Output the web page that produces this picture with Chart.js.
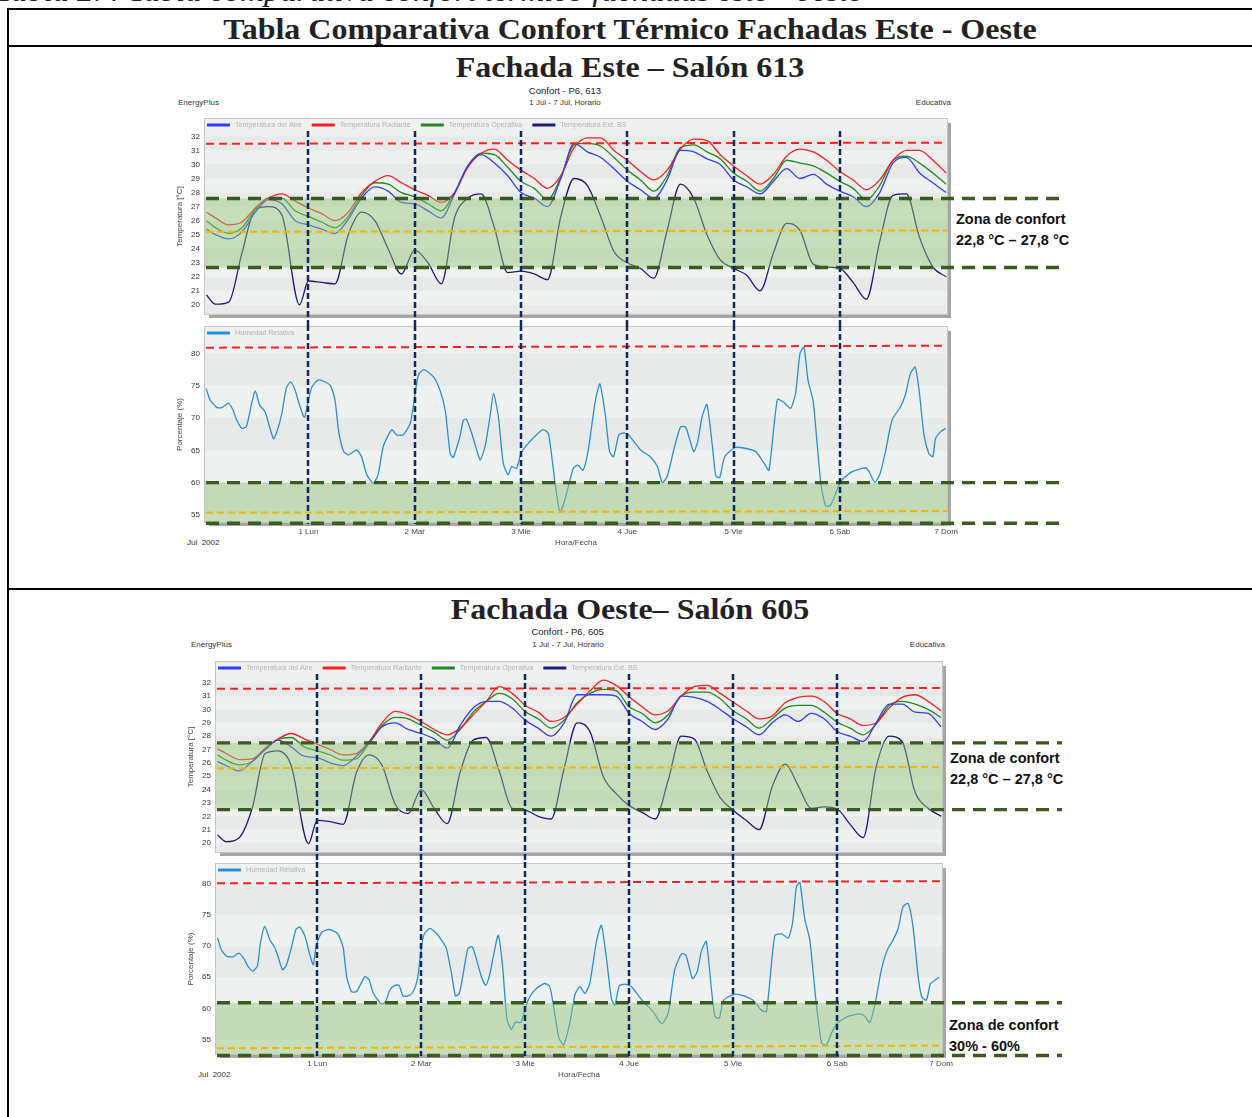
<!DOCTYPE html>
<html lang="es">
<head>
<meta charset="utf-8">
<title>Tabla Comparativa Confort Térmico Fachadas Este - Oeste</title>
<script src="https://cdn.jsdelivr.net/npm/chart.js@4.4.1/dist/chart.umd.min.js"></script>
<style>
  html, body { margin: 0; padding: 0; background: #fff; }
  body { position: relative; width: 1252px; height: 1117px; overflow: hidden;
         font-family: "Liberation Sans", Arial, sans-serif; color: #222; }
  .abs { position: absolute; white-space: nowrap; }
  .raya { position: absolute; background: #000; }
  .serif { font-family: "Liberation Serif", "Times New Roman", serif; font-weight: bold;
           font-size: 30px; line-height: 34px; text-align: center; left: 8px; width: 1244px;
           transform: scaleX(1.067); transform-origin: 622px 0; }
  .chico { font-size: 8px; line-height: 10px; color: #333; }
  .centro { text-align: center; width: 200px; }
  .zona { font-size: 14.5px; line-height: 21px; font-weight: bold; color: #111; }
  canvas { position: absolute; }
</style>
</head>
<body>
<div class="abs" style="left:-4px;top:-26px;font:italic 30px/34px 'Liberation Serif',serif;transform:scaleX(1.085);transform-origin:0 0;">Tabla 27: Tabla comparativa confort térmico fachadas este - oeste</div>
<div class="raya" style="left:7px;top:8px;width:1245px;height:2px"></div>
<div class="raya" style="left:7px;top:45px;width:1245px;height:2px"></div>
<div class="raya" style="left:7px;top:588px;width:1245px;height:2px"></div>
<div class="raya" style="left:7px;top:8px;width:2px;height:1109px"></div>

<div class="abs serif" style="top:12px">Tabla Comparativa Confort Térmico Fachadas Este - Oeste</div>
<div class="abs serif" style="top:50px">Fachada Este – Salón 613</div>
<div class="abs serif" style="top:592px">Fachada Oeste– Salón 605</div>

<!-- encabezados fachada este -->
<div class="abs chico" style="left:178px;top:98px">EnergyPlus</div>
<div class="abs centro" style="left:465px;top:84.6px;font-size:9.5px;line-height:12px">Confort - P6, 613</div>
<div class="abs chico centro" style="left:465px;top:98px">1 Jul - 7 Jul, Horario</div>
<div class="abs chico" style="right:301px;top:98px">Educativa</div>
<div class="abs chico" style="left:187px;top:538px">Jul&nbsp; 2002</div>
<div class="abs zona" style="left:956px;top:209px">Zona de confort<br>22,8 °C – 27,8 °C</div>

<!-- encabezados fachada oeste -->
<div class="abs chico" style="left:191px;top:640px">EnergyPlus</div>
<div class="abs centro" style="left:467.6px;top:626.1px;font-size:9.5px;line-height:12px">Confort - P6, 605</div>
<div class="abs chico centro" style="left:468px;top:640px">1 Jul - 7 Jul, Horario</div>
<div class="abs chico" style="right:307px;top:640px">Educativa</div>
<div class="abs chico" style="left:198px;top:1070px">Jul&nbsp; 2002</div>
<div class="abs zona" style="left:950px;top:747.5px">Zona de confort<br>22,8 °C – 27,8 °C</div>
<div class="abs zona" style="left:949px;top:1014.5px">Zona de confort<br>30% - 60%</div>

<script>
// horas (1 Jul 00h = 0) de las lecturas de temperatura
const horasT = [1,3,6,9,12,15,18,21,24,27,30,33,36,39,42,45,48,51,54,57,60,63,66,69,72,75,78,81,84,87,90,93,96,99,102,105,108,111,114,117,120,123,126,129,132,135,138,141,144,147,150,153,156,159,162,165,168];
const horasExt = [1,3,6,9,12,15,18,22,24,27,30,33,36,39,42,45,48,51,54,57,60,63,66,69,72,75,78,81,84,87,90,93,96,99,102,105,108,111,114,117,120,123,126,129,132,135,138,141,144,147,150,153,156,159,162,165,168];

const etiquetasDias = ['1 Lun','2 Mar','3 Mie','4 Jue','5 Vie','6 Sab','7 Dom'];
const horasDias = [24,48,72,96,120,144,168];
const ticksTemp = [20,21,22,23,24,25,26,27,28,29,30,31,32];
const ticksHum = [55,60,65,70,75,80];
const nombresTemp = ['Temperatura del Aire','Temperatura Radiante','Temperatura Operativa','Temperatura Ext. BS'];

// Fachada Este - Salon 613
const aireEste = [25.4,25.0,24.7,25.2,26.6,27.5,27.2,26.0,25.7, 25.4,25.1,26.1,27.6,28.4,28.1,27.3,27.2, 26.7,26.2,27.9,29.9,30.7,30.1,29.2,28.0, 27.6,27.0,29.0,31.5,30.9,30.5,29.7,28.8, 28.2,27.6,28.9,31.0,30.9,30.4,30.0,28.9, 28.4,27.9,28.8,29.7,29.0,29.3,28.6,28.1, 27.7,27.0,28.0,30.1,30.5,29.4,28.7,28.0];
const radianteEste = [26.6,26.2,25.7,25.9,26.9,27.6,27.9,27.4,26.9, 26.5,26.0,26.6,28.0,28.8,29.2,28.7,28.2, 27.8,27.3,28.0,29.8,30.8,31.1,30.3,29.6, 29.0,28.3,29.2,31.2,31.9,31.9,31.0,30.3, 29.5,28.9,29.6,31.1,31.8,31.7,30.7,29.9, 29.2,28.6,29.3,30.6,31.1,30.9,30.3,29.5, 28.9,28.2,28.9,30.3,31.0,31.0,30.3,29.4];
const operativaEste = [26.0,25.5,25.1,25.5,26.8,27.6,27.6,26.7,26.3, 25.9,25.5,26.3,27.8,28.7,28.6,28.0,27.7, 27.2,26.7,28.0,29.9,30.8,30.7,29.8,28.8, 28.3,27.5,29.1,31.4,31.5,31.3,30.5,29.6, 28.9,28.1,29.2,31.2,31.4,30.9,30.4,29.4, 28.8,28.1,29.0,30.3,30.1,29.9,29.4,28.8, 28.3,27.5,28.5,30.3,30.6,30.1,29.4,28.6];
const exteriorEste = [20.7,20.05,20.2,23.7,26.8,27.0,26.4,20.0,21.7, 21.6,21.5,25.0,26.6,26.0,24.0,22.2,23.9, 23.0,21.5,26.2,27.6,27.9,25.5,22.3,22.4, 22.2,21.8,26.3,29.0,28.5,26.3,23.8,23.0, 22.6,21.9,25.3,28.6,27.6,25.0,23.2,22.6, 22.1,21.0,23.7,25.8,25.3,22.9,22.7,22.6, 21.6,20.4,24.5,27.8,27.9,24.8,22.7,22.0];
const horasHumEste = [0.9,1.8,3.3,4.4,5.9,7.0,7.8,9.0,10.0,11.2,12.0,13.0,14.2,16.1,16.9,18.0,19.0,20.0,21.0,22.0,23.1,24.0,24.8,26.3,28.9,30.0,30.8,31.9,33.0,34.9,36.0,37.2,38.7,39.8,40.9,42.8,43.9,45.4,47.0,48.0,48.8,50.0,52.2,53.7,54.9,56.0,56.7,58.2,59.0,59.7,60.9,62.0,62.8,63.9,65.0,65.8,66.9,68.0,69.1,69.9,71.0,72.0,73.3,75.5,77.0,78.2,79.7,80.8,81.9,83.8,84.9,86.0,87.2,88.7,89.8,91.0,92.0,92.9,94.1,95.2,96.3,99.0,101.2,102.8,103.9,105.0,106.5,108.0,109.2,111.0,111.9,112.9,114.0,115.2,116.0,116.9,118.0,120.3,122.0,125.0,126.9,128.0,129.9,131.4,132.9,134.0,135.0,135.9,136.8,138.0,139.7,140.8,141.9,144.1,144.9,146.8,149.8,150.6,151.9,153.1,154.3,155.8,157.7,158.8,159.9,161.0,161.9,163.0,164.1,165.0,165.6,166.8,167.9];
const humedadEste = [74.6,72.8,71.65,71.6,72.3,71.2,69.7,68.4,68.7,72.3,74.2,72.0,71.0,66.8,67.9,70.7,74.6,75.6,74.3,72.0,70.1,72.8,74.8,75.9,75.1,72.8,68.1,64.9,64.3,65.05,64.0,61.2,59.9,61.4,65.6,68.2,67.4,67.4,69.2,73.3,76.6,77.5,76.4,74.3,71.2,64.5,63.9,67.1,69.7,69.8,67.6,65.05,63.5,65.6,70.2,73.8,70.2,63.0,61.2,62.5,62.2,64.5,65.8,67.4,68.2,67.6,59.9,55.4,57.3,62.2,62.7,61.9,65.05,72.3,75.3,70.7,64.8,64.0,67.4,67.7,67.4,65.05,64.0,62.5,60.0,60.9,65.05,68.6,68.6,64.8,66.3,70.2,72.1,65.8,61.0,60.8,64.0,65.4,65.4,64.8,63.0,61.9,72.9,72.4,71.5,73.8,80.0,81.0,75.9,72.5,59.9,56.4,56.5,60.05,60.7,61.7,62.3,61.7,60.05,61.4,64.8,69.7,71.75,73.6,76.8,77.9,74.3,67.4,64.5,64.0,66.8,67.9,68.4];

// Fachada Oeste - Salon 605
const aireOeste = [26.1,25.8,25.4,26.1,27.0,27.7,27.2,26.5,26.4, 26.0,25.8,26.5,27.5,28.7,29.0,28.5,28.2, 27.8,27.1,28.8,30.1,30.6,30.6,30.1,29.2, 28.6,28.0,29.0,31.1,31.1,31.1,31.0,29.7, 29.1,28.5,29.3,31.0,30.9,30.6,30.0,29.3, 28.7,28.1,29.0,29.6,29.1,29.7,29.3,28.35, 28.0,27.6,29.0,30.4,30.4,29.8,29.7,28.7];
const radianteOeste = [27.05,26.7,26.25,26.3,27.1,27.8,28.2,27.8,27.4, 27.0,26.6,26.7,27.6,29.0,29.85,29.6,29.1, 28.5,28.1,28.6,29.6,30.6,31.7,31.2,30.3, 29.8,29.1,29.4,30.4,31.4,32.2,31.8,30.95, 30.2,29.6,29.9,31.0,31.7,31.8,31.2,30.55, 29.9,29.3,29.5,30.5,30.9,31.0,30.6,29.7, 29.3,28.8,29.0,30.1,30.9,31.1,30.6,29.9];
const operativaOeste = [26.6,26.2,25.85,26.1,27.0,27.75,27.9,27.2,26.9, 26.6,26.2,26.3,27.5,28.8,29.4,29.3,28.8, 28.3,27.7,28.5,29.8,30.6,31.2,30.8,29.85, 29.3,28.6,29.2,30.5,31.2,31.5,31.4,30.2, 29.7,29.0,29.6,31.0,31.3,31.3,30.8,29.9, 29.3,28.6,29.3,30.1,30.3,30.3,29.8,29.05, 28.6,28.1,28.9,30.3,30.6,30.4,30.0,29.4];
const exteriorOeste = [20.6,20.1,20.4,22.6,26.7,26.9,25.8,19.95,21.7, 21.6,21.4,25.2,26.6,25.8,22.9,22.2,24.0, 22.6,21.45,25.3,27.7,27.9,25.4,22.6,22.45, 22.0,21.8,25.6,29.0,28.3,25.0,23.7,22.8, 22.3,21.8,24.7,28.0,27.8,25.4,23.4,22.45, 21.7,21.0,24.2,25.9,24.3,22.6,22.7,22.55, 21.4,20.4,25.7,28.0,27.6,23.8,22.6,22.0];
const horasHumOeste = [1.0,1.9,3.1,4.6,5.9,6.9,8.1,9.1,10.2,10.9,11.9,13.1,14.2,15.0,16.0,16.9,18.1,19.1,20.0,21.2,22.2,23.1,23.8,25.0,26.5,27.7,28.8,30.0,30.8,31.9,33.1,35.0,36.0,36.9,38.8,39.8,40.8,41.9,42.9,43.8,45.0,46.0,47.1,47.9,48.6,50.0,51.5,52.7,53.8,55.0,55.9,56.8,57.7,58.8,59.8,60.8,61.9,62.9,63.8,64.8,65.8,66.8,67.8,68.8,69.8,71.0,72.0,73.1,74.6,76.5,77.7,78.8,79.8,80.9,82.3,83.5,84.6,85.8,86.9,88.5,89.6,90.8,91.9,92.7,93.7,95.0,96.5,99.2,101.5,103.5,105.0,106.5,108.1,109.1,110.6,111.7,112.7,113.8,115.0,115.8,116.8,117.8,120.0,121.5,124.6,126.5,127.7,129.6,131.2,132.7,133.7,134.6,135.4,136.5,137.7,139.1,140.4,141.5,142.7,144.0,146.5,149.2,150.4,151.5,152.7,154.2,155.5,156.9,158.1,159.2,160.4,161.5,162.7,163.5,164.6,165.5,166.5,167.5];
const humedadOeste = [71.4,69.4,68.4,68.3,68.9,68.2,66.7,66.0,66.8,70.5,73.2,71.0,69.8,68.3,66.2,67.0,69.9,72.7,73.1,71.6,68.9,67.0,70.2,72.2,72.7,72.5,72.0,69.8,65.1,62.7,62.7,65.1,64.6,62.5,60.7,61.1,63.0,63.7,63.7,62.0,62.0,62.5,64.6,68.9,71.8,72.9,72.1,71.0,69.7,65.6,62.0,62.4,65.6,69.7,69.9,67.8,65.1,63.7,65.4,68.9,71.8,66.7,58.2,56.6,57.8,57.7,60.0,61.9,63.2,64.0,63.5,59.2,55.2,54.1,57.6,62.2,63.5,62.4,64.0,71.0,73.4,67.8,61.6,60.5,63.6,63.9,63.5,61.1,59.5,57.5,59.2,66.2,68.8,68.6,64.8,65.9,69.3,70.8,63.0,58.7,58.4,61.3,62.2,62.2,61.3,59.7,59.5,71.7,72.0,71.3,73.7,79.6,80.3,74.5,71.0,61.3,54.4,54.1,56.0,57.6,58.7,59.1,58.7,57.7,60.5,66.2,69.3,71.0,72.9,76.4,76.9,73.2,65.1,61.9,61.3,63.9,64.5,65.0];

// lineas de referencia dibujadas sobre las graficas: [valor izquierda, valor derecha]
const refEste = { rojaT: [31.48, 31.55], verdeSupT: 27.58, verdeInfT: 22.66, amarillaT: [25.2, 25.3],
                  rojaH: [80.9, 81.2], verdeSupH: 60.0, verdeInfH: 53.7, amarillaH: [55.35, 55.6] };
const refOeste = { rojaT: [31.55, 31.6], verdeSupT: 27.5, verdeInfT: 22.5, amarillaT: [25.6, 25.7],
                   rojaH: [80.15, 80.5], verdeSupH: 60.9, verdeInfH: 52.4, amarillaH: [53.55, 54.0] };

const COLORES = ['#2f3ff5', '#f52020', '#1f8a1f', '#1c1c78'];
const FUENTE = '"Liberation Sans", Arial, sans-serif';

// fondo gris con bandas alternas y sombra
const fondoPlugin = {
  id: 'fondo',
  beforeDraw(chart) {
    const { ctx, chartArea: a, scales: { y } } = chart;
    ctx.save();
    ctx.fillStyle = '#a6a6a6';
    ctx.fillRect(a.left + 4, a.top + 4, a.width, a.height);
    ctx.fillStyle = '#eff1f1';
    ctx.fillRect(a.left, a.top, a.width, a.height);
    const px = y.ticks.map(t => y.getPixelForValue(t.value)).sort((p, q) => p - q);
    const lim = [a.top, ...px, a.bottom];
    for (let i = 0; i < lim.length - 1; i++) {
      if (i % 2 === 1) {
        ctx.fillStyle = '#e8eaea';
        ctx.fillRect(a.left, lim[i], a.width, lim[i + 1] - lim[i]);
      }
    }
    ctx.strokeStyle = '#c4c4c4';
    ctx.lineWidth = 1;
    ctx.strokeRect(a.left - 0.5, a.top - 0.5, a.width + 1, a.height + 1);
    ctx.restore();
  }
};

// leyenda dentro del area de la grafica
const leyendaPlugin = {
  id: 'leyendaInterna',
  afterDatasetsDraw(chart) {
    const { ctx, chartArea: a } = chart;
    ctx.save();
    ctx.font = '7.2px ' + FUENTE;
    ctx.textBaseline = 'middle';
    let x = a.left + 2;
    const y = a.top + 6;
    chart.data.datasets.forEach(ds => {
      ctx.fillStyle = ds.borderColor;
      ctx.fillRect(x, y - 1.5, 23, 3);
      ctx.fillStyle = '#b3b3b3';
      ctx.fillText(ds.label, x + 28, y);
      x += 28 + ctx.measureText(ds.label).width + 10;
    });
    ctx.restore();
  }
};

// zona de confort, lineas discontinuas y division de dias
const lineasPlugin = {
  id: 'lineas',
  afterDraw(chart, args, o) {
    const { ctx, chartArea: a, scales: { x, y } } = chart;
    ctx.save();
    const yb1 = y.getPixelForValue(o.banda[1]);
    const yb0 = y.getPixelForValue(o.banda[0] == null ? y.min : o.banda[0]);
    ctx.fillStyle = 'rgba(150,200,120,0.45)';
    ctx.fillRect(a.left, yb1, a.width, yb0 - yb1);

    const linea = (v1, v2, hasta, color, ancho, dash) => {
      ctx.beginPath();
      ctx.setLineDash(dash);
      ctx.lineWidth = ancho;
      ctx.strokeStyle = color;
      ctx.moveTo(a.left + 1, y.getPixelForValue(v1));
      ctx.lineTo(hasta, y.getPixelForValue(v2));
      ctx.stroke();
    };
    linea(o.roja[0], o.roja[1], a.right, '#ff2020', 2, [8, 5]);
    linea(o.amarilla[0], o.amarilla[1], a.right, '#f2b705', 2, [7, 4]);
    linea(o.verdeSup, o.verdeSup, a.right + 120, '#3b5a20', 3.4, [13, 8]);
    linea(o.verdeInf, o.verdeInf, a.right + 120, '#3b5a20', 3.4, [13, 8]);

    const y0 = o.tipo === 'temp' ? a.top + 12 : 0;
    const y1 = o.tipo === 'temp' ? chart.height : a.bottom + 2;
    ctx.setLineDash([6, 3]);
    ctx.lineWidth = 2.5;
    ctx.strokeStyle = '#0f2a62';
    horasDias.slice(0, 6).forEach(h => {
      const px = Math.round(x.getPixelForValue(h));
      ctx.beginPath();
      ctx.moveTo(px, y0);
      ctx.lineTo(px, y1);
      ctx.stroke();
    });
    ctx.restore();
  }
};

function serie(horas, valores) {
  return horas.map((h, i) => ({ x: h, y: valores[i] }));
}

function crearCanvas(left, top, w, h) {
  const c = document.createElement('canvas');
  c.width = w; c.height = h;
  c.style.left = left + 'px';
  c.style.top = top + 'px';
  c.style.width = w + 'px';
  c.style.height = h + 'px';
  document.body.appendChild(c);
  return c;
}

function sinRelleno(s) {
  s.paddingTop = 0; s.paddingBottom = 0; s.paddingLeft = 0; s.paddingRight = 0;
}

function ejeY(min, max, ticks, titulo) {
  return {
    min, max,
    afterBuildTicks: s => { s.ticks = ticks.map(v => ({ value: v })); },
    afterFit: s => { s.width = 30; sinRelleno(s); },
    grid: { display: false, drawTicks: false },
    border: { display: false },
    ticks: { padding: 5, color: '#333', font: { family: FUENTE, size: 8 } },
    title: { display: true, text: titulo, color: '#444', padding: 0, font: { family: FUENTE, size: 8 } }
  };
}

function seccion(s) {
  const ancho = s.der - s.izq + 35 + 135;
  // temperatura
  const topT = s.tTop - 5;
  const altoT = s.hTop - 2 - topT;
  new Chart(crearCanvas(s.izq - 35, topT, ancho, altoT), {
    type: 'line',
    data: {
      datasets: s.temps.map((v, i) => ({
        label: nombresTemp[i],
        data: serie(i === 3 ? horasExt : horasT, v),
        borderColor: COLORES[i],
        backgroundColor: COLORES[i],
        borderWidth: 1.3,
        pointRadius: 0,
        cubicInterpolationMode: 'monotone'
      }))
    },
    options: {
      responsive: false, animation: false, devicePixelRatio: 1,
      layout: { padding: { left: 5, top: 5, right: 135, bottom: altoT - 5 - (s.tBottom - s.tTop) } },
      plugins: {
        legend: { display: false }, tooltip: { enabled: false },
        lineas: { tipo: 'temp', banda: [s.ref.verdeInfT, s.ref.verdeSupT], roja: s.ref.rojaT,
                  amarilla: s.ref.amarillaT, verdeSup: s.ref.verdeSupT, verdeInf: s.ref.verdeInfT }
      },
      scales: {
        x: { type: 'linear', min: 0.65, max: 168.2, display: false },
        y: ejeY(s.tMin, s.tMax, ticksTemp, 'Temperatura [°C]')
      }
    },
    plugins: [fondoPlugin, leyendaPlugin, lineasPlugin]
  });

  // humedad relativa
  const topH = s.hTop - 2;
  const altoH = 2 + (s.hBottom - s.hTop) + 26 + 4;
  new Chart(crearCanvas(s.izq - 35, topH, ancho, altoH), {
    type: 'line',
    data: {
      datasets: [{
        label: 'Humedad Relativa',
        data: serie(s.horasHum, s.hum),
        borderColor: '#2a8fd0',
        backgroundColor: '#2a8fd0',
        borderWidth: 1.3,
        pointRadius: 0,
        tension: 0.2
      }]
    },
    options: {
      responsive: false, animation: false, devicePixelRatio: 1,
      layout: { padding: { left: 5, top: 2, right: 135, bottom: 4 } },
      plugins: {
        legend: { display: false }, tooltip: { enabled: false },
        lineas: { tipo: 'hum', banda: [null, s.ref.verdeSupH], roja: s.ref.rojaH,
                  amarilla: s.ref.amarillaH, verdeSup: s.ref.verdeSupH, verdeInf: s.ref.verdeInfH }
      },
      scales: {
        x: {
          type: 'linear', min: 0.65, max: 168.2,
          afterBuildTicks: e => { e.ticks = horasDias.map(v => ({ value: v })); },
          afterFit: e => { e.height = 26; sinRelleno(e); },
          grid: { display: false, drawTicks: false },
          border: { display: false },
          ticks: { padding: 5, autoSkip: false, maxRotation: 0, color: '#444',
                   font: { family: FUENTE, size: 8 },
                   callback: (v, i) => etiquetasDias[i] },
          title: { display: true, text: 'Hora/Fecha', color: '#444', padding: 0,
                   font: { family: FUENTE, size: 8 } }
        },
        y: ejeY(s.hMin, s.hMax, ticksHum, 'Porcentaje (%)')
      }
    },
    plugins: [fondoPlugin, leyendaPlugin, lineasPlugin]
  });
}

seccion({
  izq: 205, der: 947, tTop: 119, tBottom: 314, hTop: 327, hBottom: 522,
  tMin: 19.35, tMax: 33.24, hMin: 53.9, hMax: 84.1,
  temps: [aireEste, radianteEste, operativaEste, exteriorEste],
  horasHum: horasHumEste, hum: humedadEste, ref: refEste
});

seccion({
  izq: 216, der: 942, tTop: 662, tBottom: 852, hTop: 864, hBottom: 1054,
  tMin: 19.33, tMax: 33.55, hMin: 52.63, hMax: 83.27,
  temps: [aireOeste, radianteOeste, operativaOeste, exteriorOeste],
  horasHum: horasHumOeste, hum: humedadOeste, ref: refOeste
});
</script>
</body>
</html>
